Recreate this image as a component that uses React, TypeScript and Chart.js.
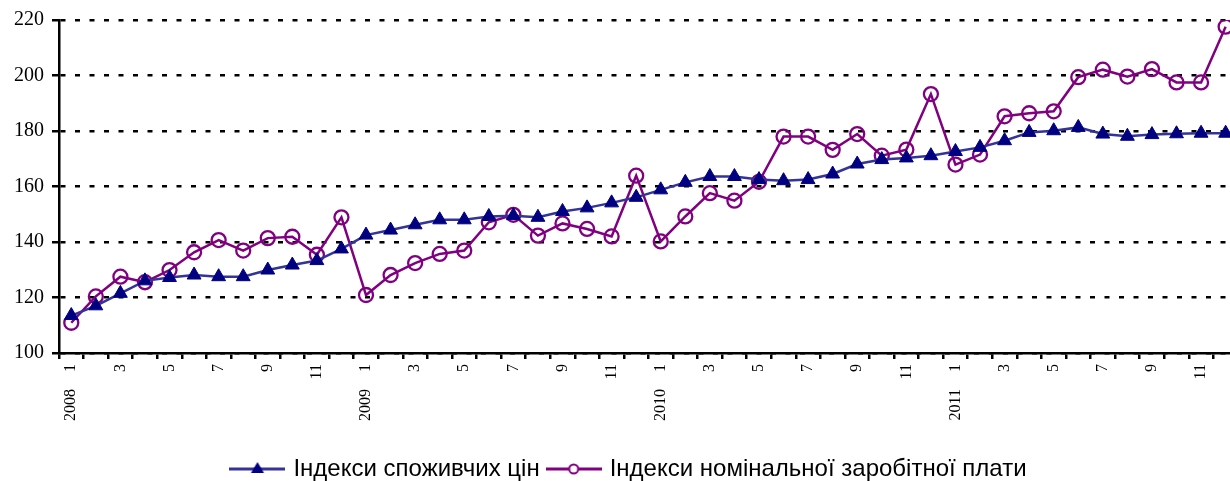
import React, { useEffect, useRef } from "react";
import { Chart, registerables } from "chart.js";

Chart.register(...registerables);

const years = ["2008", "2009", "2010", "2011"];
const months = ["1", "2", "3", "4", "5", "6", "7", "8", "9", "10", "11", "12"];

const cpi = [
  113.5, 117.0, 121.5, 126.0, 127.2, 128.1, 127.5, 127.5, 129.9, 131.7, 133.3, 137.5,
  142.5, 144.3, 146.2, 148.0, 148.0, 149.2, 149.5, 148.9, 151.0, 152.3, 154.1, 156.1,
  158.8, 161.5, 163.6, 163.6, 162.5, 162.1, 162.5, 164.5, 168.1, 169.7, 170.3, 171.1,
  172.6, 174.1, 176.5, 179.5, 180.1, 181.3, 178.9, 178.1, 178.7, 179.0, 179.2, 179.2,
];

const wages = [
  110.9, 120.4, 127.5, 125.5, 129.9, 136.3, 140.7, 136.9, 141.4, 141.9, 135.4, 148.9,
  120.9, 128.1, 132.4, 135.7, 136.9, 147.1, 149.8, 142.3, 146.7, 144.7, 142.0, 163.9,
  140.2, 149.2, 157.6, 154.9, 161.7, 178.0, 178.0, 173.2, 178.9, 171.1, 173.3, 193.3,
  167.9, 171.5, 185.3, 186.4, 187.1, 199.4, 202.1, 199.6, 202.3, 197.5, 197.5, 217.6,
];

const seriesNames = ["Індекси споживчих цін", "Індекси номінальної заробітної плати"];
const yTicks = [100, 120, 140, 160, 180, 200, 220];

const categories = years.flatMap((y) => months.map((m) => `${y}-${m}`));

function makeSymbol(kind: "tri" | "circ", line: string, fill: string, stroke: string) {
  const c = document.createElement("canvas");
  c.width = 56;
  c.height = 20;
  const ctx = c.getContext("2d")!;
  ctx.strokeStyle = line;
  ctx.lineWidth = 3;
  ctx.beginPath();
  ctx.moveTo(0, 10);
  ctx.lineTo(56, 10);
  ctx.stroke();
  if (kind === "tri") {
    ctx.fillStyle = fill;
    ctx.beginPath();
    ctx.moveTo(28, 3);
    ctx.lineTo(34.5, 14);
    ctx.lineTo(21.5, 14);
    ctx.closePath();
    ctx.fill();
  } else {
    ctx.fillStyle = "#ffffff";
    ctx.strokeStyle = stroke;
    ctx.lineWidth = 2;
    ctx.beginPath();
    ctx.arc(28, 10, 4.5, 0, Math.PI * 2);
    ctx.fill();
    ctx.stroke();
  }
  return c;
}

const serif = "'Liberation Serif', 'Times New Roman', serif";

export default function App() {
  const ref = useRef<HTMLCanvasElement | null>(null);
  useEffect(() => {
    if (!ref.current) return;
    const symbols = [
      makeSymbol("tri", "#333399", "#000080", "#000080"),
      makeSymbol("circ", "#800080", "#ffffff", "#800080"),
    ];
    const chart = new Chart(ref.current, {
      type: "line",
      data: {
        labels: categories,
        datasets: [
          {
            label: seriesNames[0],
            data: cpi,
            borderColor: "#333399",
            borderWidth: 2.5,
            pointStyle: "triangle",
            pointRadius: 8,
            pointBackgroundColor: "#000080",
            pointBorderColor: "#000080",
            pointBorderWidth: 1,
            tension: 0,
          },
          {
            label: seriesNames[1],
            data: wages,
            borderColor: "#800080",
            borderWidth: 2.5,
            pointStyle: "circle",
            pointRadius: 7,
            pointBackgroundColor: "rgba(255,255,255,0)",
            pointBorderColor: "#800080",
            pointBorderWidth: 2.3,
            tension: 0,
          },
        ],
      },
      options: {
        responsive: false,
        animation: false,
        devicePixelRatio: 1,
        layout: { padding: { left: 6, top: 7, right: 0, bottom: 0 } },
        scales: {
          y: {
            min: 100,
            max: 220,
            afterBuildTicks: (s: any) => {
              s.ticks = yTicks.map((v) => ({ value: v }));
            },
            ticks: {
              color: "#000",
              padding: 8,
              font: { family: serif, size: 20 },
            },
            grid: {
              color: "#000",
              lineWidth: 2.5,
              tickLength: 7,
              tickBorderDash: [],
            },
            border: { display: true, color: "#000", width: 2.5, dash: [5, 9.5] },
          },
          x: {
            type: "category",
            position: "bottom",
            weight: 1,
            offset: true,
            afterFit: (s: any) => {
              s.height = 27;
            },
            ticks: {
              autoSkip: false,
              maxRotation: 90,
              minRotation: 90,
              padding: 5,
              color: "#000",
              font: { family: serif, size: 16 },
              callback: (_v: any, i: number) => {
                const m = months[i % 12];
                return Number(m) % 2 === 1 ? m : "";
              },
            },
            grid: {
              drawOnChartArea: false,
              color: "#000",
              lineWidth: 2.5,
              tickLength: 6,
              offset: true,
            },
            border: { display: true, color: "#000", width: 2.5 },
          },
          x2: {
            type: "category",
            position: "bottom",
            weight: 2,
            offset: true,
            afterFit: (s: any) => {
              s.height = 67;
            },
            ticks: {
              autoSkip: false,
              maxRotation: 90,
              minRotation: 90,
              padding: 9,
              color: "#000",
              font: { family: serif, size: 16 },
              callback: (_v: any, i: number) => (i % 12 === 0 ? years[Math.floor(i / 12)] : ""),
            },
            grid: { display: false, drawTicks: false },
            border: { display: false },
          },
        },
        plugins: {
          tooltip: { enabled: false },
          legend: {
            position: "bottom",
            labels: {
              usePointStyle: true,
              pointStyleWidth: 48,
              padding: 10,
              color: "#000",
              font: { family: "'Liberation Sans', Arial, sans-serif", size: 24 },
              generateLabels: (ch: any) =>
                (Chart.defaults.plugins.legend.labels as any)
                  .generateLabels(ch)
                  .map((it: any, i: number) => ({ ...it, pointStyle: symbols[i] })),
            },
          },
        },
      },
    } as any);
    return () => chart.destroy();
  }, []);
  return (
    <div
      style={{
        position: "fixed",
        left: 0,
        top: 0,
        width: 1230,
        height: 481,
        overflow: "hidden",
        background: "#fff",
      }}
    >
      <canvas ref={ref} width={1254} height={491} style={{ width: 1254, height: 491, display: "block" }} />
    </div>
  );
}
